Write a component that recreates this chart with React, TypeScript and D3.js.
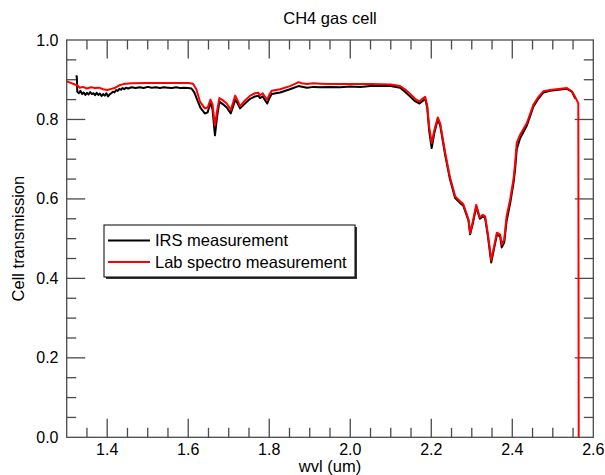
import React from "react";
import * as d3 from "d3";

const title = "CH4 gas cell";
const xLabel = "wvl (um)";
const yLabel = "Cell transmission";
const seriesNames = ["IRS measurement", "Lab spectro measurement"];

const xTickLabels = [1.4, 1.6, 1.8, 2.0, 2.2, 2.4, 2.6];
const yTickLabels = [0.0, 0.2, 0.4, 0.6, 0.8, 1.0];

const irsWvl = [
  1.322, 1.325, 1.326, 1.330, 1.334, 1.338, 1.342, 1.346, 1.350, 1.354, 1.358, 1.362, 1.366, 1.370,
  1.374, 1.378, 1.382, 1.386, 1.390, 1.394, 1.398, 1.402, 1.406, 1.410, 1.414, 1.418, 1.422, 1.426,
  1.430, 1.434, 1.438, 1.442, 1.446, 1.452, 1.460, 1.470, 1.480, 1.490, 1.500, 1.510, 1.520, 1.530,
  1.540, 1.550, 1.560, 1.570, 1.580, 1.590, 1.600, 1.608, 1.615, 1.622, 1.630, 1.641, 1.648, 1.655,
  1.660, 1.666, 1.671, 1.677, 1.686, 1.695, 1.705, 1.710, 1.716, 1.722, 1.728, 1.740, 1.753, 1.765,
  1.773, 1.777, 1.784, 1.790, 1.795, 1.800, 1.806, 1.827, 1.851, 1.872, 1.893, 1.910, 1.926, 1.950,
  1.975, 2.000, 2.025, 2.050, 2.075, 2.100, 2.123, 2.135, 2.148, 2.160, 2.171, 2.178, 2.185, 2.190,
  2.195, 2.201, 2.208, 2.216, 2.222, 2.234, 2.246, 2.259, 2.271, 2.279, 2.292, 2.296, 2.303, 2.311,
  2.320, 2.327, 2.333, 2.340, 2.348, 2.355, 2.362, 2.370, 2.374, 2.380, 2.386, 2.395, 2.399, 2.403,
  2.407, 2.411, 2.419, 2.436, 2.452, 2.464, 2.477, 2.493, 2.535, 2.547, 2.556,
];
const irsT = [
  0.909, 0.909, 0.870, 0.866, 0.872, 0.864, 0.868, 0.862, 0.867, 0.863, 0.869, 0.864, 0.866, 0.861,
  0.867, 0.862, 0.865, 0.859, 0.864, 0.860, 0.866, 0.858, 0.863, 0.866, 0.870, 0.868, 0.874, 0.872,
  0.877, 0.875, 0.879, 0.876, 0.880, 0.878, 0.881, 0.879, 0.881, 0.879, 0.882, 0.880, 0.881, 0.879,
  0.881, 0.880, 0.879, 0.881, 0.879, 0.880, 0.879, 0.878, 0.868, 0.850, 0.830, 0.815, 0.818, 0.842,
  0.825, 0.760, 0.805, 0.845, 0.838, 0.830, 0.815, 0.830, 0.850, 0.840, 0.828, 0.840, 0.852, 0.858,
  0.860, 0.854, 0.858, 0.848, 0.840, 0.853, 0.864, 0.868, 0.876, 0.884, 0.880, 0.882, 0.881, 0.882,
  0.881, 0.883, 0.882, 0.884, 0.884, 0.884, 0.880, 0.870, 0.858, 0.846, 0.840, 0.846, 0.852, 0.830,
  0.770, 0.728, 0.768, 0.800, 0.785, 0.712, 0.650, 0.602, 0.590, 0.583, 0.545, 0.511, 0.540, 0.580,
  0.550, 0.556, 0.552, 0.505, 0.440, 0.475, 0.510, 0.506, 0.478, 0.490, 0.545, 0.590, 0.615, 0.640,
  0.675, 0.725, 0.752, 0.785, 0.832, 0.852, 0.868, 0.872, 0.877, 0.870, 0.852,
];

const labWvl = [
  1.300, 1.310, 1.320, 1.326, 1.332, 1.340, 1.350, 1.360, 1.370, 1.380, 1.390, 1.400, 1.410, 1.420,
  1.430, 1.440, 1.460, 1.500, 1.550, 1.600, 1.612, 1.620, 1.629, 1.641, 1.648, 1.655, 1.660, 1.666,
  1.671, 1.677, 1.686, 1.695, 1.705, 1.710, 1.716, 1.722, 1.728, 1.740, 1.753, 1.765, 1.773, 1.777,
  1.784, 1.790, 1.795, 1.800, 1.806, 1.827, 1.851, 1.865, 1.872, 1.880, 1.893, 1.910, 1.926, 1.950,
  2.000, 2.050, 2.100, 2.123, 2.135, 2.148, 2.160, 2.171, 2.178, 2.185, 2.190, 2.195, 2.201, 2.208,
  2.216, 2.222, 2.234, 2.246, 2.259, 2.271, 2.279, 2.292, 2.296, 2.303, 2.311, 2.320, 2.327, 2.333,
  2.340, 2.348, 2.355, 2.362, 2.370, 2.374, 2.380, 2.386, 2.395, 2.399, 2.403, 2.407, 2.411, 2.419,
  2.436, 2.452, 2.464, 2.477, 2.493, 2.535, 2.547, 2.556, 2.563, 2.564,
];
const labT = [
  0.896, 0.892, 0.888, 0.886, 0.880, 0.882, 0.878, 0.881, 0.879, 0.880, 0.876, 0.874, 0.877, 0.880,
  0.886, 0.889, 0.891, 0.892, 0.892, 0.892, 0.890, 0.876, 0.845, 0.828, 0.830, 0.850, 0.838, 0.785,
  0.820, 0.854, 0.848, 0.840, 0.824, 0.840, 0.860, 0.848, 0.833, 0.848, 0.860, 0.866, 0.867, 0.861,
  0.866, 0.856, 0.850, 0.862, 0.872, 0.876, 0.884, 0.890, 0.894, 0.891, 0.889, 0.891, 0.890, 0.889,
  0.889, 0.889, 0.888, 0.884, 0.876, 0.864, 0.852, 0.845, 0.852, 0.857, 0.835, 0.780, 0.741, 0.775,
  0.805, 0.790, 0.718, 0.655, 0.606, 0.594, 0.587, 0.548, 0.514, 0.545, 0.585, 0.553, 0.560, 0.556,
  0.510, 0.446, 0.480, 0.515, 0.510, 0.485, 0.497, 0.556, 0.600, 0.625, 0.650, 0.690, 0.741, 0.761,
  0.791, 0.837, 0.856, 0.871, 0.874, 0.879, 0.871, 0.855, 0.841, 0.000,
];

const W = 605;
const H = 475;
const m = { left: 66.7, right: 593.3, top: 40, bottom: 437.3 };
const FONT = "'Liberation Sans', Arial, Helvetica, sans-serif";
const frameColor = "#4a4a4a";

export default function App() {
  const x = d3.scaleLinear().domain([1.3, 2.6]).range([m.left, m.right]);
  const y = d3.scaleLinear().domain([0, 1]).range([m.bottom, m.top]);

  const line = d3
    .line<[number, number]>()
    .x((d) => x(d[0]))
    .y((d) => y(d[1]));

  const irs: [number, number][] = irsWvl.map((w, i) => [w, irsT[i]]);
  const lab: [number, number][] = labWvl.map((w, i) => [w, labT[i]]);

  const xMinor = d3.range(26).map((i) => 1.3 + i * 0.05).filter((v) => v > 1.301 && v < 2.599);
  const yMinor = d3.range(21).map((i) => i * 0.05).filter((v) => v > 0.001 && v < 0.999);
  const isMajor = (v: number) => Math.abs(v / 0.2 - Math.round(v / 0.2)) < 1e-6;

  const majL = 18.5;
  const minL = 9.5;

  const lg = { x: 104, y: 225, w: 251, h: 52 };

  return (
    <svg
      width={W}
      height={H}
      style={{ position: "absolute", left: 0, top: 0, background: "#fff" }}
      fontFamily={FONT}
    >
      <rect x={0} y={0} width={W} height={H} fill="#fff" />
      <text x={(m.left + m.right) / 2} y={24} textAnchor="middle" fontSize={16.5}>
        {title}
      </text>

      {/* ticks */}
      <g stroke={frameColor} strokeWidth={1.3}>
        {xMinor.map((v, i) => {
          const L = isMajor(v) ? majL : minL;
          return (
            <g key={"xt" + i}>
              <line x1={x(v)} x2={x(v)} y1={m.bottom} y2={m.bottom - L} />
              <line x1={x(v)} x2={x(v)} y1={m.top} y2={m.top + L} />
            </g>
          );
        })}
        {yMinor.map((v, i) => {
          const L = isMajor(v) ? majL : minL;
          return (
            <g key={"yt" + i}>
              <line x1={m.left} x2={m.left + L} y1={y(v)} y2={y(v)} />
              <line x1={m.right} x2={m.right - L} y1={y(v)} y2={y(v)} />
            </g>
          );
        })}
      </g>

      {/* series */}
      <path d={line(irs) ?? ""} fill="none" stroke="#000" strokeWidth={2} strokeLinejoin="round" />
      <path d={line(lab) ?? ""} fill="none" stroke="#ff0000" strokeWidth={2} strokeLinejoin="round" />

      <rect
        x={m.left}
        y={m.top}
        width={m.right - m.left}
        height={m.bottom - m.top}
        fill="none"
        stroke={frameColor}
        strokeWidth={1.3}
      />

      {/* tick labels */}
      {xTickLabels.map((v) => (
        <text key={"xl" + v} x={x(v)} y={455} textAnchor="middle" fontSize={16}>
          {v.toFixed(1)}
        </text>
      ))}
      {yTickLabels.map((v) => (
        <text key={"yl" + v} x={58.5} y={y(v) + 5.5} textAnchor="end" fontSize={16}>
          {v.toFixed(1)}
        </text>
      ))}

      <text x={(m.left + m.right) / 2} y={472} textAnchor="middle" fontSize={16.5}>
        {xLabel}
      </text>
      <text
        transform={`translate(24, ${(m.top + m.bottom) / 2}) rotate(-90)`}
        textAnchor="middle"
        fontSize={16.5}
      >
        {yLabel}
      </text>

      {/* legend */}
      <rect x={lg.x + 2} y={lg.y + 2} width={lg.w} height={lg.h} fill="#333" />
      <rect x={lg.x} y={lg.y} width={lg.w} height={lg.h} fill="#fff" stroke="#000" strokeWidth={1} />
      {seriesNames.map((name, i) => (
        <g key={name}>
          <line
            x1={lg.x + 4}
            x2={lg.x + 46}
            y1={lg.y + 15.5 + i * 21.5}
            y2={lg.y + 15.5 + i * 21.5}
            stroke={i === 0 ? "#000" : "#ff0000"}
            strokeWidth={2}
          />
          <text x={lg.x + 51} y={lg.y + 21 + i * 21.5} fontSize={16.5}>
            {name}
          </text>
        </g>
      ))}
    </svg>
  );
}
